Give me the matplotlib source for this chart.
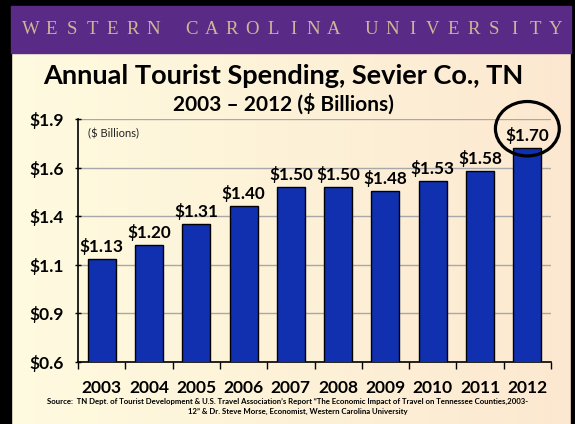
import matplotlib
matplotlib.use("Agg")
import matplotlib.pyplot as plt
import numpy as np
from matplotlib.patches import Rectangle, Ellipse
from matplotlib.colors import LinearSegmentedColormap

years = ["2003", "2004", "2005", "2006", "2007", "2008", "2009", "2010", "2011", "2012"]
spending = [1.13, 1.20, 1.31, 1.40, 1.50, 1.50, 1.48, 1.53, 1.58, 1.70]
value_labels = ["$1.13", "$1.20", "$1.31", "$1.40", "$1.50", "$1.50", "$1.48", "$1.53", "$1.58", "$1.70"]
yticks = [0.6, 0.85, 1.1, 1.35, 1.6, 1.85]
ytick_labels = ["$0.6", "$0.9", "$1.1", "$1.4", "$1.6", "$1.9"]
header = "WESTERN CAROLINA UNIVERSITY"

W, H = 575, 424
fig = plt.figure(figsize=(W / 100, H / 100), dpi=100, facecolor="#FDF3DA")

# background gradient
bg = fig.add_axes([0, 0, 1, 1], zorder=-10)
grad = np.linspace(0, 1, 256)[None, :]
cm = LinearSegmentedColormap.from_list("bg", ["#FFFBE0", "#FDF2D8", "#FCE8D0"])
bg.imshow(grad, aspect="auto", cmap=cm, extent=[0, W, H, 0])
bg.set_xlim(0, W)
bg.set_ylim(H, 0)
bg.axis("off")

# frame: black border and purple header
bg.add_patch(Rectangle((0, 0), W, 6, color="black", zorder=2))
bg.add_patch(Rectangle((0, 0), 11, H, color="black", zorder=2))
bg.add_patch(Rectangle((571, 0), 4, H, color="black", zorder=2))
bg.add_patch(Rectangle((11, 6), 560, 47, color="#5A2A87", zorder=2))

# letter-spaced header
step = 20.4
pos = 31.0
for ch in header:
    if ch == " ":
        pos += step * 0.85
        continue
    bg.text(pos, 30, ch, ha="center", va="center", color="#D0B596", fontsize=13.5,
            family="Liberation Serif", zorder=3)
    pos += step

bg.text(283, 76, "Annual Tourist Spending, Sevier Co., TN", ha="center", va="center",
        fontsize=19.5, fontweight="bold", family="Lato", color="black")
bg.text(283, 104, "2003 \u2013 2012 ($ Billions)", ha="center", va="center",
        fontsize=15, fontweight="bold", family="Lato", color="black")

bg.text(288, 401, "Source:  TN Dept. of Tourist Development & U.S. Travel Association\u2019s Report \u201cThe Economic Impact of Travel on Tennessee Counties,2003-",
        ha="center", va="center", fontsize=5.6, fontweight="bold", family="Lato", color="black")
bg.text(298, 411, "12\u201d & Dr. Steve Morse, Economist, Western Carolina University",
        ha="center", va="center", fontsize=5.6, fontweight="bold", family="Lato", color="black")

# main axes
ax = fig.add_axes([78 / W, 1 - 362 / H, (551 - 78) / W, (362 - 119) / H])
ax.patch.set_alpha(0)
x = np.arange(len(years))
ax.bar(x, spending, width=0.59, color="#1030B0", edgecolor="black", linewidth=1.0, zorder=3)
ax.set_xlim(-0.5, len(years) - 0.5)
ax.set_ylim(0.6, 1.85)
ax.set_yticks(yticks)
ax.set_yticklabels(ytick_labels, fontsize=12.5, fontweight="bold", family="Lato")
ax.set_xticks(x)
ax.set_xticklabels(years, fontsize=12.5, fontweight="bold", family="Lato")
ax.tick_params(axis="x", length=0, pad=13)
ax.set_xticks(np.arange(len(years) + 1) - 0.5, minor=True)
ax.tick_params(axis="x", which="minor", length=5, width=1, direction="out", color="black")
ax.tick_params(axis="y", length=5, width=1, direction="inout", pad=8)
for s in ["top", "right"]:
    ax.spines[s].set_visible(False)
ax.spines["left"].set_linewidth(1.2)
ax.spines["bottom"].set_linewidth(1.2)
ax.yaxis.grid(True, color="#A8A8A8", linewidth=1.0, zorder=0)
ax.set_axisbelow(True)

for xi, v, lab in zip(x, spending, value_labels):
    ax.annotate(lab, (xi, v), xytext=(0, 3), textcoords="offset points",
                ha="center", va="bottom", fontsize=12.3, fontweight="bold", family="Lato")

ax.text(0.022, 0.94, "($ Billions)", transform=ax.transAxes, ha="left", va="center",
        fontsize=8, family="Lato", color="#222222")

# circle highlight around the last label
ax.add_patch(Ellipse((x[-1], spending[-1] + 0.1), 1.35, 0.28, fill=False,
                     edgecolor="black", linewidth=2.3, zorder=5, clip_on=False))

fig.savefig("out.png", dpi=100, facecolor=fig.get_facecolor())
